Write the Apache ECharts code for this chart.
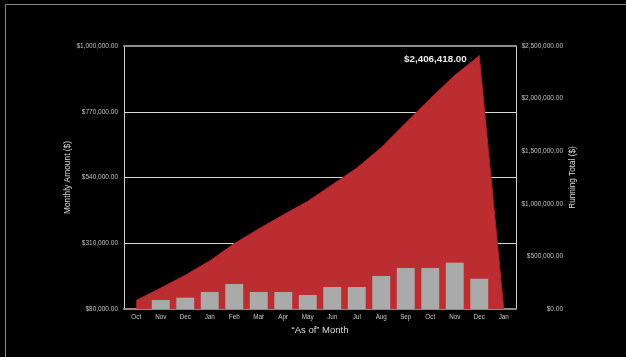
<!DOCTYPE html>
<html><head><meta charset="utf-8">
<script src="https://cdn.jsdelivr.net/npm/echarts@6/dist/echarts.min.js"></script>
<style>html,body{margin:0;padding:0;background:#000;}#c{width:626px;height:357px;}</style>
</head><body><div id="c"></div>
<script>
const months = ['Oct','Nov','Dec','Jan','Feb','Mar','Apr','May','Jun','Jul','Aug','Sep','Oct','Nov','Dec','Jan'];
const monthlyAmount = [76000,111500,119600,139500,167500,139500,139500,129000,157000,157000,195400,223400,223400,242000,186000,null];
const runningTotal = [82000,200000,322000,458000,622000,762000,895000,1025000,1182000,1340000,1535000,1770000,2000000,2222000,2406418,0];

const fmt = v => '$' + Number(v).toLocaleString('en-US',{minimumFractionDigits:2,maximumFractionDigits:2});
const FONT = 'Liberation Sans';
const chart = echarts.init(document.getElementById('c'), null, {renderer:'canvas'});
chart.setOption({
  backgroundColor:'#000',
  animation:false,
  textStyle:{fontFamily:FONT},
  graphic:[{type:'rect',shape:{x:5.5,y:4.5,width:700,height:400},style:{fill:'none',stroke:'#8a8a8a',lineWidth:1},silent:true}],
  grid:{left:124,right:110,top:46,bottom:48},
  xAxis:[{
    type:'category', data:months, boundaryGap:true,
    name:'\u201cAs of\u201d Month', nameLocation:'middle', nameGap:15,
    nameTextStyle:{color:'#dcdcdc',fontSize:9.5,fontFamily:FONT},
    axisLine:{lineStyle:{color:'#8c8c8c',width:2}},
    axisTick:{show:false},
    axisLabel:{color:'#c8c8c8',fontSize:6.3,margin:5,fontFamily:FONT,interval:0}
  },{
    type:'category', data:months, position:'top', boundaryGap:true,
    axisLine:{show:true,lineStyle:{color:'#8c8c8c',width:2}},
    axisTick:{show:false}, axisLabel:{show:false}, splitLine:{show:false}
  }],
  yAxis:[{
    type:'value', position:'left', min:80000, max:1000000, interval:230000,
    name:'Monthly Amount ($)', nameLocation:'middle', nameGap:52, nameRotate:90, nameMoveOverlap:false,
    nameTextStyle:{color:'#dcdcdc',fontSize:8.4,fontFamily:FONT},
    axisLine:{show:true,lineStyle:{color:'#cfcfcf',width:1}},
    axisTick:{show:false},
    axisLabel:{color:'#c0c0c0',fontSize:6.5,margin:6,formatter:fmt,fontFamily:FONT},
    splitLine:{show:true,showMinLine:false,showMaxLine:false,lineStyle:{color:'#d8d8d8',width:1.2}}
  },{
    type:'value', position:'right', min:0, max:2500000, interval:500000,
    name:'Running Total ($)', nameLocation:'middle', nameGap:53, nameRotate:90, nameMoveOverlap:false,
    nameTextStyle:{color:'#dcdcdc',fontSize:8.2,fontFamily:FONT},
    axisLine:{show:true,lineStyle:{color:'#cfcfcf',width:1}},
    axisTick:{show:false},
    axisLabel:{color:'#c0c0c0',fontSize:6.5,margin:47,align:'right',formatter:fmt,fontFamily:FONT},
    splitLine:{show:false}
  }],
  series:[{
    type:'line', yAxisIndex:1, z:1,
    data: runningTotal,
    symbol:'none',
    lineStyle:{color:'#a52429',width:1},
    areaStyle:{color:'#bc2d32',opacity:1},
    markPoint:{
      symbol:'circle', symbolSize:1, itemStyle:{color:'#bc2d32'},
      data:[{type:'max'}],
      label:{show:true,position:'left',distance:12,offset:[0,3],formatter:p=>fmt(p.value),color:'#ececec',fontSize:9.8,fontWeight:'bold',fontFamily:FONT}
    }
  },{
    type:'bar', yAxisIndex:0, z:3,
    data: monthlyAmount,
    barCategoryGap:'27%',
    itemStyle:{color:'#aaaaaa'}
  }]
});
</script></body></html>
